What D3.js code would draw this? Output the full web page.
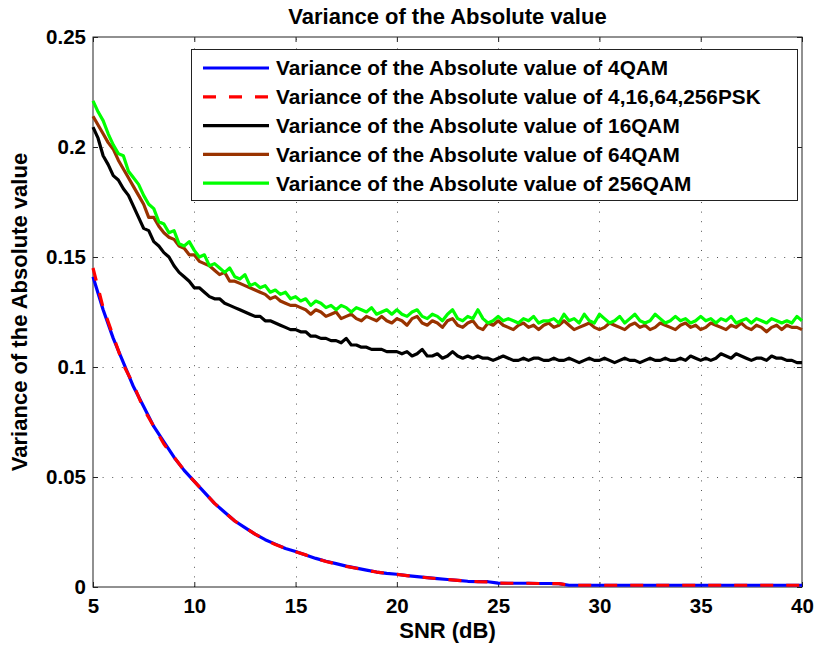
<!DOCTYPE html>
<html>
<head>
<meta charset="utf-8">
<script src="https://cdn.jsdelivr.net/npm/d3@7/dist/d3.min.js"></script>
<style>
body{margin:0;background:#fff;}
text{font-family:"Liberation Sans", Arial, Helvetica, sans-serif;font-weight:bold;fill:#000;}
</style>
</head>
<body>
<div id="chart"></div>
<script>
// x values: noisy curves sampled every 0.25 dB, smooth ones every 0.5 dB
const snrFine = d3.range(5, 40.001, 0.25)
const snrCoarse = d3.range(5, 40.001, 0.5)

const var4QAM = [0.141,0.126,0.113,0.102,0.091,0.082,0.073,0.066,0.059,0.053,
  0.048,0.043,0.038,0.034,0.030,0.027,0.024,0.0215,0.0195,0.0175,
  0.0161,0.0145,0.0130,0.0117,0.0106,0.0095,0.0086,0.0077,0.0068,0.0062,
  0.0058,0.0052,0.0047,0.0043,0.0038,0.0034,0.0030,0.0026,0.0024,0.0024,
  0.0018,0.0017,0.0017,0.0017,0.0016,0.0016,0.0015,0.0008,0.0008,0.0008,
  0.0008,0.0008,0.0008,0.0008,0.0008,0.0008,0.0008,0.0008,0.0008,0.0008,
  0.0008,0.0008,0.0008,0.0008,0.0008,0.0008,0.0008,0.0008,0.0008,0.0008,0.0008]

const varPSK = [0.145,0.127,0.114,0.101,0.092,0.081,0.073,0.065,0.059,0.053,
  0.048,0.043,0.038,0.034,0.030,0.027,0.024,0.0215,0.0193,0.0176,
  0.0160,0.0146,0.0130,0.0116,0.0105,0.0094,0.0085,0.0076,0.0068,0.0062,
  0.0057,0.0052,0.0047,0.0042,0.0038,0.0034,0.0030,0.0027,0.0024,0.0023,
  0.0018,0.0017,0.0017,0.0017,0.0016,0.0016,0.0015,0.0008,0.0008,0.0008,
  0.0008,0.0008,0.0008,0.0008,0.0008,0.0008,0.0008,0.0008,0.0008,0.0008,
  0.0008,0.0008,0.0008,0.0008,0.0008,0.0008,0.0008,0.0008,0.0008,0.0008,0.0008]

const var16QAM = [0.209,0.204,0.196,0.192,0.187,0.185,0.181,0.178,0.173,0.168,
  0.163,0.162,0.157,0.155,0.152,0.150,0.146,0.143,0.141,0.139,
  0.136,0.136,0.134,0.132,0.131,0.131,0.129,0.128,0.127,0.126,
  0.125,0.124,0.123,0.123,0.121,0.121,0.120,0.119,0.118,0.117,
  0.117,0.116,0.116,0.114,0.114,0.113,0.113,0.112,0.112,0.111,
  0.113,0.110,0.110,0.109,0.109,0.108,0.108,0.108,0.107,0.107,
  0.107,0.106,0.107,0.105,0.106,0.108,0.105,0.105,0.106,0.104,
  0.105,0.107,0.105,0.104,0.105,0.104,0.105,0.104,0.104,0.103,
  0.104,0.105,0.104,0.103,0.103,0.104,0.103,0.104,0.104,0.103,
  0.103,0.104,0.103,0.103,0.104,0.103,0.102,0.103,0.104,0.103,
  0.103,0.104,0.103,0.102,0.103,0.104,0.103,0.103,0.102,0.103,
  0.104,0.103,0.103,0.104,0.103,0.103,0.104,0.103,0.105,0.104,
  0.103,0.104,0.103,0.104,0.106,0.105,0.104,0.106,0.105,0.104,
  0.103,0.104,0.104,0.103,0.105,0.104,0.104,0.103,0.103,0.102,0.102]

const var64QAM = [0.214,0.210,0.206,0.202,0.199,0.194,0.190,0.186,0.182,0.178,
  0.174,0.168,0.168,0.164,0.161,0.159,0.158,0.155,0.154,0.151,
  0.151,0.148,0.147,0.146,0.144,0.142,0.143,0.139,0.139,0.138,
  0.137,0.136,0.135,0.134,0.133,0.131,0.132,0.130,0.129,0.128,
  0.128,0.127,0.126,0.124,0.126,0.125,0.123,0.124,0.125,0.122,
  0.123,0.124,0.122,0.121,0.123,0.122,0.121,0.123,0.121,0.120,
  0.122,0.121,0.119,0.122,0.123,0.120,0.119,0.121,0.120,0.118,
  0.121,0.122,0.119,0.118,0.120,0.121,0.118,0.117,0.120,0.119,
  0.121,0.119,0.118,0.117,0.119,0.120,0.118,0.119,0.117,0.119,
  0.120,0.118,0.119,0.121,0.119,0.117,0.118,0.119,0.120,0.118,
  0.117,0.118,0.120,0.119,0.118,0.117,0.119,0.120,0.118,0.119,
  0.117,0.118,0.120,0.119,0.118,0.117,0.119,0.120,0.118,0.119,
  0.117,0.118,0.120,0.119,0.118,0.117,0.119,0.118,0.120,0.118,
  0.117,0.119,0.118,0.116,0.118,0.119,0.117,0.119,0.118,0.118,0.117]

const var256QAM = [0.221,0.216,0.212,0.206,0.201,0.197,0.196,0.189,0.186,0.183,
  0.178,0.174,0.172,0.166,0.165,0.161,0.162,0.156,0.155,0.157,
  0.153,0.150,0.151,0.146,0.147,0.145,0.143,0.145,0.141,0.140,
  0.142,0.137,0.138,0.136,0.137,0.134,0.135,0.133,0.134,0.131,
  0.132,0.130,0.131,0.128,0.130,0.129,0.127,0.128,0.126,0.128,
  0.127,0.125,0.127,0.126,0.125,0.127,0.124,0.125,0.126,0.124,
  0.126,0.124,0.123,0.125,0.126,0.123,0.122,0.124,0.123,0.121,
  0.124,0.126,0.122,0.121,0.123,0.122,0.126,0.122,0.120,0.121,
  0.123,0.121,0.122,0.121,0.120,0.122,0.121,0.123,0.120,0.121,
  0.121,0.122,0.120,0.124,0.121,0.122,0.120,0.124,0.121,0.120,
  0.124,0.122,0.120,0.121,0.123,0.120,0.122,0.124,0.121,0.120,
  0.121,0.124,0.122,0.120,0.121,0.123,0.121,0.122,0.120,0.121,
  0.123,0.121,0.122,0.120,0.122,0.121,0.123,0.120,0.121,0.122,
  0.120,0.122,0.121,0.120,0.122,0.121,0.120,0.121,0.120,0.123,0.121]

const legendLabels = [
  "Variance of the Absolute value of 4QAM",
  "Variance of the Absolute value of 4,16,64,256PSK",
  "Variance of the Absolute value of 16QAM",
  "Variance of the Absolute value of 64QAM",
  "Variance of the Absolute value of 256QAM"
]
const xTicks = [5,10,15,20,25,30,35,40]
const yTicks = [0,0.05,0.1,0.15,0.2,0.25]
const yTickLabels = ["0","0.05","0.1","0.15","0.2","0.25"]

const series = [
  {label: legendLabels[0], snr: snrCoarse, values: var4QAM, color: "#0000ff", dash: null},
  {label: legendLabels[1], snr: snrCoarse, values: varPSK, color: "#ff0000", dash: "13,13"},
  {label: legendLabels[2], snr: snrFine, values: var16QAM, color: "#000000", dash: null},
  {label: legendLabels[3], snr: snrFine, values: var64QAM, color: "#993300", dash: null},
  {label: legendLabels[4], snr: snrFine, values: var256QAM, color: "#00ff00", dash: null}
]

const width = 815
const height = 647
const margin = {left: 93, right: 13, top: 37, bottom: 60}

const svg = d3.select("#chart").append("svg")
  .attr("width", width).attr("height", height)
  .attr("viewBox", [0, 0, width, height])

const xScale = d3.scaleLinear().domain([5, 40]).range([margin.left, width - margin.right])
const yScale = d3.scaleLinear().domain([0, 0.25]).range([height - margin.bottom, margin.top])

// dotted grid
const grid = svg.append("g").attr("stroke", "#555").attr("stroke-width", 1).attr("stroke-dasharray", "1,8.6")
grid.selectAll(".gx").data(xTicks.slice(1, -1)).enter().append("line")
  .attr("x1", d => Math.round(xScale(d)) + 0.5).attr("x2", d => Math.round(xScale(d)) + 0.5)
  .attr("y1", yScale(0)).attr("y2", yScale(0.25))
grid.selectAll(".gy").data(yTicks.slice(1, -1)).enter().append("line")
  .attr("y1", d => Math.round(yScale(d)) + 0.5).attr("y2", d => Math.round(yScale(d)) + 0.5)
  .attr("x1", xScale(5)).attr("x2", xScale(40))

// axes, ticks pointing inward
const fs = "20.5px"
const xAxis = svg.append("g").attr("transform", `translate(0,${yScale(0)})`)
  .call(d3.axisBottom(xScale).tickValues(xTicks).tickSize(-5).tickPadding(11.5).tickFormat(d3.format("d")))
const xAxisTop = svg.append("g").attr("transform", `translate(0,${yScale(0.25)})`)
  .call(d3.axisTop(xScale).tickValues(xTicks).tickSize(-5).tickFormat(""))
const yAxis = svg.append("g").attr("transform", `translate(${xScale(5)},0)`)
  .call(d3.axisLeft(yScale).tickValues(yTicks).tickSize(-5).tickPadding(7).tickFormat((d, i) => yTickLabels[i]))
const yAxisRight = svg.append("g").attr("transform", `translate(${xScale(40)},0)`)
  .call(d3.axisRight(yScale).tickValues(yTicks).tickSize(-5).tickFormat(""))

for (const ax of [xAxis, xAxisTop, yAxis, yAxisRight]) {
  ax.select(".domain").remove()
  ax.selectAll(".tick line").attr("stroke", "#222")
  ax.selectAll("text").style("font-size", fs).attr("fill", "#000")
}
svg.selectAll(".tick text").attr("font-family", null)

svg.append("rect")
  .attr("x", xScale(5)).attr("y", yScale(0.25))
  .attr("width", xScale(40) - xScale(5)).attr("height", yScale(0) - yScale(0.25))
  .attr("fill", "none").attr("stroke", "#222").attr("stroke-width", 1)

// curves
const line = d3.line().x(d => xScale(d[0])).y(d => yScale(d[1]))
for (const s of series) {
  svg.append("path")
    .datum(s.snr.map((v, i) => [v, s.values[i]]))
    .attr("d", line)
    .attr("fill", "none")
    .attr("stroke", s.color)
    .attr("stroke-width", 3.2)
    .attr("stroke-linejoin", "round")
    .attr("stroke-dasharray", s.dash)
}

// legend
const legend = svg.append("g")
legend.append("rect")
  .attr("x", 191.5).attr("y", 49.5).attr("width", 606).attr("height", 151)
  .attr("fill", "#fff").attr("stroke", "#222").attr("stroke-width", 1)
series.forEach((s, i) => {
  const ly = 68 + i * 28.8
  legend.append("line")
    .attr("x1", 203).attr("x2", 269).attr("y1", ly).attr("y2", ly)
    .attr("stroke", s.color).attr("stroke-width", 3.2)
    .attr("stroke-dasharray", s.dash)
  legend.append("text")
    .attr("x", 276).attr("y", ly).attr("dy", "0.36em")
    .style("font-size", "20.8px")
    .text(s.label)
})

// titles
svg.append("text").attr("x", (xScale(5) + xScale(40)) / 2).attr("y", 24)
  .attr("text-anchor", "middle").style("font-size", "22px")
  .text("Variance of the Absolute value")
svg.append("text").attr("x", (xScale(5) + xScale(40)) / 2).attr("y", 638)
  .attr("text-anchor", "middle").style("font-size", "22px")
  .text("SNR (dB)")
svg.append("text")
  .attr("transform", `translate(27,${(yScale(0) + yScale(0.25)) / 2}) rotate(-90)`)
  .attr("text-anchor", "middle").style("font-size", "22px")
  .text("Variance of the Absolute value")
</script>
</body>
</html>
